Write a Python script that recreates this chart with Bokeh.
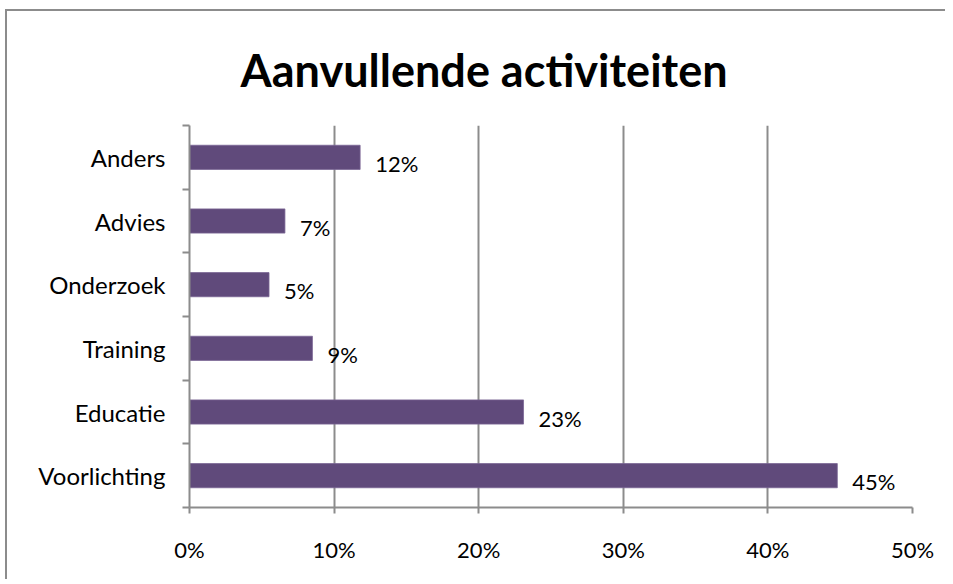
from bokeh.plotting import figure
from bokeh.models import Range1d, FixedTicker, ColumnDataSource, Title
from bokeh.core.properties import value
from bokeh.embed import file_html
from bokeh.resources import INLINE

categories = ["Anders", "Advies", "Onderzoek", "Training", "Educatie", "Voorlichting"]
values = [11.8, 6.6, 5.5, 8.5, 23.1, 44.8]
labels = ["12%", "7%", "5%", "9%", "23%", "45%"]
x_ticks = [0, 10, 20, 30, 40, 50]
x_tick_labels = ["0%", "10%", "20%", "30%", "40%", "50%"]
title_text = "Aanvullende activiteiten"

FONT = "Lato"
GRAY = "#8c8c8c"
n = len(categories)
ypos = [n - i - 0.5 for i in range(n)]

src = ColumnDataSource(dict(cat=categories, val=values, lab=labels, y=ypos))

p = figure(width=940, height=570, output_backend="svg", toolbar_location=None,
           x_range=Range1d(0, 50), y_range=Range1d(0, n),
           min_border_left=182, min_border_right=35, min_border_top=114, min_border_bottom=74)
p.styles = {"border-left": "2px solid " + GRAY, "border-top": "2px solid " + GRAY,
            "margin-left": "5px", "margin-top": "9px"}
p.outline_line_color = None
p.background_fill_color = "white"
p.border_fill_color = "white"

p.title = Title(text=title_text, align="left", offset=51, standoff=58,
                text_font=FONT, text_font_size="45px", text_font_style="bold",
                text_color="#000000")

p.hbar(y="y", right="val", left=0, height=0.38, source=src,
       fill_color="#604A7B", line_color="#7a6694", line_width=0.8)

p.text(x="val", y="y", text="lab", source=src, x_offset=15, y_offset=6,
       text_font=value(FONT), text_font_size="22px", text_color="#000000",
       text_align="left", text_baseline="middle")

# x axis
p.xaxis.ticker = FixedTicker(ticks=x_ticks)
p.xaxis.major_label_overrides = {t: l for t, l in zip(x_ticks, x_tick_labels)}
p.xaxis.major_tick_out = 6
p.xaxis.major_tick_in = 0
p.xaxis.minor_tick_line_color = None
p.xaxis.axis_line_color = GRAY
p.xaxis.axis_line_width = 2
p.xaxis.major_tick_line_color = GRAY
p.xaxis.major_tick_line_width = 2
p.xaxis.major_label_text_font = FONT
p.xaxis.major_label_text_font_size = "22px"
p.xaxis.major_label_text_color = "#000000"
p.xaxis.major_label_standoff = 22

# y axis: labels at centres, ticks at boundaries
p.yaxis.ticker = FixedTicker(ticks=ypos, minor_ticks=list(range(n + 1)))
p.yaxis.major_label_overrides = {y: c for y, c in zip(ypos, categories)}
p.yaxis.major_tick_line_color = None
p.yaxis.major_tick_out = 0
p.yaxis.major_tick_in = 0
p.yaxis.minor_tick_out = 7
p.yaxis.minor_tick_in = 0
p.yaxis.minor_tick_line_color = GRAY
p.yaxis.minor_tick_line_width = 2
p.yaxis.axis_line_color = GRAY
p.yaxis.axis_line_width = 2
p.yaxis.major_label_text_font = FONT
p.yaxis.major_label_text_font_size = "24px"
p.yaxis.major_label_text_color = "#000000"
p.yaxis.major_label_standoff = 17

p.xgrid.ticker = FixedTicker(ticks=x_ticks)
p.xgrid.grid_line_color = GRAY
p.xgrid.grid_line_width = 2
p.ygrid.grid_line_color = None

open("out.html", "w").write(file_html(p, INLINE))
